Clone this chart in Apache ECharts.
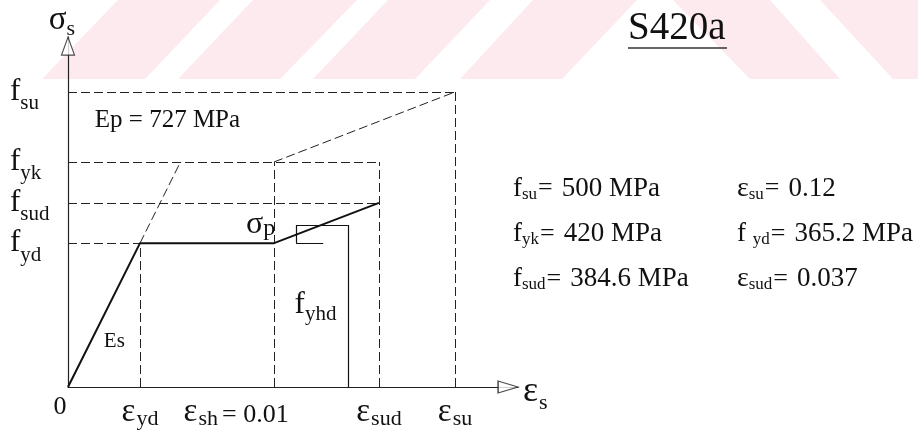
<!DOCTYPE html>
<html><head><meta charset="utf-8">
<script src="https://cdn.jsdelivr.net/npm/echarts@6/dist/echarts.min.js"></script>
<style>html,body{margin:0;padding:0;background:#fff}#c{width:918px;height:442px}</style>
</head><body><div id="c"></div>
<script>
// ---- Schematic diagram values (axis units: strain 0..100, stress 0..100) ----
const strainTicks = [0, 16, 45.8, 69.1, 86];            // 0, ε_yd, ε_sh, ε_sud, ε_su
const strainTickLabels = ['0', 'ε_yd', 'ε_sh = 0.01', 'ε_sud', 'ε_su'];
const stressTicks = [84.3, 64.3, 52.6, 41.1];            // f_su, f_yk, f_sud, f_yd
const stressTickLabels = ['su', 'yk', 'sud', 'yd'];

// main bilinear curve (solid)
const curveStrain = [0, 16, 45.8, 69.1];
const curveStress = [0, 41.1, 41.1, 52.6];

// dashed construction segments [x1, y1, x2, y2]
const dashedSegments = [
  [0, 84.3, 86, 84.3],
  [0, 64.3, 69.1, 64.3],
  [0, 52.6, 69.1, 52.6],
  [0, 41.1, 16, 41.1],
  [16, 0, 16, 41.1],
  [45.8, 0, 45.8, 64.3],
  [69.1, 0, 69.1, 64.3],
  [86, 0, 86, 84.3],
  [16, 41.1, 25, 64.3],
  [45.8, 64.3, 86, 84.3]
];
// thin solid segments (σp / f_yhd construction)
const thinSegments = [
  [62.2, 0, 62.2, 46.3],
  [50.7, 46.3, 62.2, 46.3],
  [50.7, 41.1, 50.7, 46.3],
  [50.7, 41.1, 56.7, 41.1]
];
// in-plot annotations
const noteX = [22.1, 42.8, 55.0, 10.3];
const noteY = [76.3, 46.3, 23.4, 13.1];
const noteText = ['{t|Ep = 727 MPa}', '{g|σ}{gp|p}', '{f|f}{fs|yhd}', '{e2|Es}'];

// material properties block
const propRows = [
  ['{f|f}{s|su}{q|=}{t|500 MPa}', '{e|ε}{s|su}{q|=}{t|0.12}'],
  ['{f|f}{s|yk}{q|=}{t|420 MPa}', '{f|f }{s|yd}{q|=}{t|365.2 MPa}'],
  ['{f|f}{s|sud}{q|=}{t|384.6 MPa}', '{e|ε}{s|sud}{q|=}{t|0.037}']
];
const titleText = 'S420a';

// ---------------------------------------------------------------------------------
const SERIF = '"Liberation Serif", "DejaVu Serif", serif';
const INK = '#111';
const chart = echarts.init(document.getElementById('c'), null, {renderer: 'canvas'});

const stripeColor = '#fdeaee';
const stripes = [
  [[42,79],[145,79],[220,0],[118,0]],
  [[178,79],[280,79],[357,0],[253,0]],
  [[313,79],[415,79],[490,0],[388,0]],
  [[460,79],[562,79],[637,0],[533,0]],
  [[673,0],[770,0],[840,79],[750,79]],
  [[820,0],[1000,0],[1080,79],[893,79]]
];

const xLabelRich = {
  z: {fontSize: 26, fontFamily: SERIF, color: INK},
  zp: {width: 16},
  e: {fontSize: 33, fontFamily: SERIF, color: INK},
  s: {fontSize: 22, fontFamily: SERIF, color: INK, padding: [14, 0, 0, 1]},
  q: {fontSize: 26, fontFamily: SERIF, color: INK, padding: [6, 0, 0, 4]},
  pad: {width: 76}
};
function xLabelFmt(v) {
  const i = strainTicks.findIndex(t => Math.abs(t - v) < 1e-6);
  if (i < 0) return '';
  const lab = strainTickLabels[i];
  if (lab === '0') return '{z|0}{zp| }';
  const m = lab.match(/^ε_(\w+)(.*)$/);
  if (m[2]) return '{e|ε}{s|' + m[1] + '}{q|' + m[2].trim() + '}{pad| }';
  return '{e|ε}{s|' + m[1] + '}';
}
function yLabelFmt(v) {
  const i = stressTicks.findIndex(t => Math.abs(t - v) < 1e-6);
  return i < 0 ? '' : '{f|f}{s|' + stressTickLabels[i] + '}';
}

const graphics = [];
stripes.forEach(p => graphics.push({type: 'polygon', z: -10, silent: true, shape: {points: p}, style: {fill: stripeColor}}));
graphics.push({type: 'text', z: 100, style: {text: titleText, x: 628, y: 29, font: '39px ' + SERIF, fill: INK, textVerticalAlign: 'middle'}});
graphics.push({type: 'line', z: 100, shape: {x1: 628, y1: 48, x2: 727, y2: 48}, style: {stroke: '#333', lineWidth: 1.5}});
const propRich = {
  f: {fontSize: 27, fontFamily: SERIF, fill: INK},
  e: {fontSize: 28, fontFamily: SERIF, fill: INK},
  s: {fontSize: 17, fontFamily: SERIF, fill: INK, padding: [12, 0, 0, 0]},
  q: {fontSize: 26, fontFamily: SERIF, fill: INK, padding: [0, 0, 0, 1]},
  t: {fontSize: 27, fontFamily: SERIF, fill: INK, padding: [0, 0, 0, 9]}
};
const rowY = [188.5, 234, 279];
const colX = [513, 737];
propRows.forEach((row, r) => row.forEach((txt, c) => graphics.push({
  type: 'text', z: 100,
  style: {text: txt, x: colX[c], y: rowY[r], textVerticalAlign: 'middle', rich: propRich, font: '27px ' + SERIF, fill: INK}
})));

const option = {
  backgroundColor: '#fff',
  animation: false,
  grid: {left: 68, right: 400, top: 37, bottom: 55},
  xAxis: {
    type: 'value', min: 0, max: 100,
    name: '{e|ε}{s|s}', nameLocation: 'end', nameGap: 5,
    nameTextStyle: {padding: [10, 0, 0, 0], rich: {e: {fontSize: 36, fontFamily: SERIF, color: INK}, s: {fontSize: 22, fontFamily: SERIF, color: INK, padding: [22, 0, 0, 1]}}},
    axisLine: {show: true, onZero: false, lineStyle: {color: '#222', width: 1.2}},
    axisTick: {show: false},
    splitLine: {show: false},
    axisLabel: {customValues: strainTicks, formatter: xLabelFmt, rich: xLabelRich, margin: 7, verticalAlign: 'top'}
  },
  yAxis: {
    type: 'value', min: 0, max: 100,
    name: '{g|σ}{s|s}', nameLocation: 'end', nameGap: -3,
    nameTextStyle: {padding: [0, 12, 0, 0], rich: {g: {fontSize: 33, fontFamily: SERIF, color: INK}, s: {fontSize: 22, fontFamily: SERIF, color: INK, padding: [17, 0, 0, 0]}}},
    axisLine: {show: true, onZero: false, lineStyle: {color: '#222', width: 1.2}},
    axisTick: {show: false},
    splitLine: {show: false},
    axisLabel: {
      customValues: stressTicks, formatter: yLabelFmt, margin: 58, align: 'left',
      rich: {f: {fontSize: 31, fontFamily: SERIF, color: INK}, s: {fontSize: 21, fontFamily: SERIF, color: INK, padding: [24, 0, 0, 0]}}
    }
  },
  series: [
    {
      type: 'lines', coordinateSystem: 'cartesian2d', silent: true, z: 3,
      lineStyle: {color: '#222', width: 1, type: [9, 4], opacity: 1},
      data: dashedSegments.map(s => ({coords: [[s[0], s[1]], [s[2], s[3]]]}))
    },
    {
      type: 'lines', coordinateSystem: 'cartesian2d', silent: true, z: 3,
      lineStyle: {color: '#111', width: 1.2, type: 'solid', opacity: 1},
      data: thinSegments.map(s => ({coords: [[s[0], s[1]], [s[2], s[3]]]}))
    },
    {
      type: 'line', z: 4, symbol: 'none', silent: true,
      lineStyle: {color: '#111', width: 2},
      data: curveStrain.map((x, i) => [x, curveStress[i]])
    },
    {
      type: 'scatter', z: 6, silent: true, clip: false,
      symbol: 'triangle',
      itemStyle: {color: '#fff', borderColor: '#222', borderWidth: 1.2},
      data: [
        {value: [0, 97.4], symbolSize: [13, 18], symbolRotate: 0},
        {value: [97.8, 0], symbolSize: [12, 20], symbolRotate: -90}
      ]
    },
    {
      type: 'scatter', z: 7, silent: true, symbolSize: 0,
      itemStyle: {color: INK, opacity: 1},
      data: noteX.map((x, i) => ({value: [x, noteY[i]], label: {formatter: noteText[i]}})),
      label: {
        show: true, position: 'inside', color: INK, textBorderWidth: 0, textBorderColor: 'transparent', opacity: 1,
        rich: {
          t: {fontSize: 25, fontFamily: SERIF, color: INK, textBorderWidth: 0},
          g: {fontSize: 32, fontFamily: SERIF, color: INK, textBorderWidth: 0},
          gp: {fontSize: 24, fontFamily: SERIF, color: INK, padding: [8, 0, 0, 0], textBorderWidth: 0},
          f: {fontSize: 31, fontFamily: SERIF, color: INK, textBorderWidth: 0},
          fs: {fontSize: 21, fontFamily: SERIF, color: INK, padding: [18, 0, 0, 0], textBorderWidth: 0},
          e2: {fontSize: 21, fontFamily: SERIF, color: INK, textBorderWidth: 0}
        }
      }
    }
  ],
  graphic: graphics
};
chart.setOption(option);
</script>
</body></html>
